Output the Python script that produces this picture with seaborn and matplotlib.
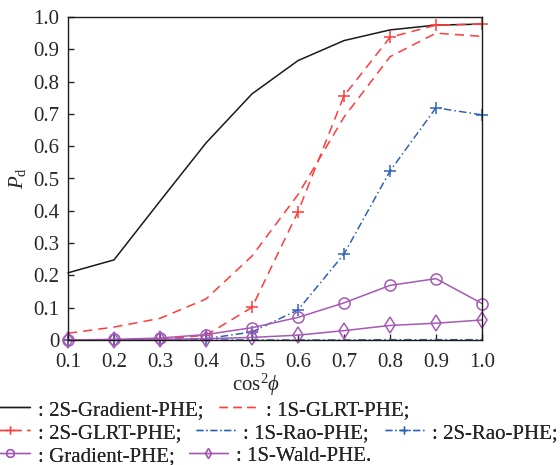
import matplotlib
matplotlib.use("Agg")
import matplotlib.pyplot as plt
from matplotlib.lines import Line2D
import pandas as pd
import seaborn as sns

# cos^2(phi) grid
cos2phi = [0.1, 0.2, 0.3, 0.4, 0.5, 0.6, 0.7, 0.8, 0.9, 1.0]

# detection probability of each detector
pd_2s_gradient = [0.208, 0.248, 0.43, 0.61, 0.762, 0.865, 0.927, 0.96, 0.975, 0.978]
pd_1s_glrt     = [0.021, 0.040, 0.067, 0.127, 0.26, 0.45, 0.69, 0.877, 0.95, 0.94]
pd_2s_glrt     = [0.0, 0.0, 0.002, 0.015, 0.101, 0.397, 0.756, 0.937, 0.975, 0.978]
pd_1s_rao      = [0.0, 0.0, 0.0, 0.0, 0.0, 0.0, 0.0, 0.001, 0.001, 0.001]
pd_2s_rao      = [0.0, 0.0, 0.001, 0.004, 0.025, 0.093, 0.266, 0.523, 0.719, 0.697]
pd_gradient    = [0.0, 0.002, 0.006, 0.017, 0.038, 0.070, 0.115, 0.169, 0.19, 0.113]
pd_1s_wald     = [0.0, 0.0, 0.002, 0.004, 0.008, 0.015, 0.029, 0.045, 0.052, 0.062]

labels = [": 2S-Gradient-PHE;", ": 1S-GLRT-PHE;", ": 2S-GLRT-PHE;",
          ": 1S-Rao-PHE;", ": 2S-Rao-PHE;", ": Gradient-PHE;", ": 1S-Wald-PHE."]

xticks = [0.1, 0.2, 0.3, 0.4, 0.5, 0.6, 0.7, 0.8, 0.9, 1.0]
xtick_labels = ["0.1", "0.2", "0.3", "0.4", "0.5", "0.6", "0.7", "0.8", "0.9", "1.0"]
yticks = [0.0, 0.1, 0.2, 0.3, 0.4, 0.5, 0.6, 0.7, 0.8, 0.9, 1.0]
ytick_labels = ["0", "0.1", "0.2", "0.3", "0.4", "0.5", "0.6", "0.7", "0.8", "0.9", "1.0"]

sns.set_style("ticks")
plt.rcParams["font.family"] = ["Liberation Serif", "DejaVu Serif"]
plt.rcParams["mathtext.fontset"] = "custom"
plt.rcParams["mathtext.rm"] = "Liberation Serif"
plt.rcParams["mathtext.it"] = "Liberation Serif:italic"
FS = 15
plt.rcParams["font.size"] = FS

BLACK = "#1a1a1a"
RED = "#ff3b3b"
BLUE = "#2f62b5"
PURPLE = "#a55ab5"

styles = [
    dict(color=BLACK, dashes=None, marker=None, ms=0),
    dict(color=RED, dashes=(6, 4), marker=None, ms=0),
    dict(color=RED, dashes=(6, 4), marker="+", ms=9),
    dict(color=BLUE, dashes=(5, 2, 1, 2), marker=None, ms=0),
    dict(color=BLUE, dashes=(5, 2, 1, 2), marker="+", ms=8),
    dict(color=PURPLE, dashes=None, marker="o", ms=8),
    dict(color=PURPLE, dashes=None, marker="d", ms=8),
]
series = [pd_2s_gradient, pd_1s_glrt, pd_2s_glrt, pd_1s_rao, pd_2s_rao, pd_gradient, pd_1s_wald]

W, H = 560, 465
fig = plt.figure(figsize=(W / 100, H / 100), dpi=100)
ax = fig.add_axes([68 / W, 1 - 340 / H, 414 / W, 323 / H])

handles = []
for vals, st in zip(series, styles):
    df = pd.DataFrame({"x": cos2phi, "y": vals})
    sns.lineplot(data=df, x="x", y="y", ax=ax, color=st["color"], lw=1.1,
                 marker=st["marker"], markersize=st["ms"], markerfacecolor="none",
                 markeredgecolor=st["color"], markeredgewidth=1.1,
                 sort=False, legend=False, clip_on=False)
    line = ax.lines[-1]
    if st["dashes"] is not None:
        line.set_dashes(st["dashes"])
    h = Line2D([], [], color=st["color"], lw=1.0, marker=st["marker"],
               markersize=st["ms"] * 0.7, markerfacecolor="none",
               markeredgecolor=st["color"], markeredgewidth=1.0)
    if st["dashes"] is not None:
        h.set_dashes(st["dashes"])
    handles.append(h)

ax.set_xlim(0.1, 1.0)
ax.set_ylim(0.0, 1.0)
ax.set_xticks(xticks)
ax.set_xticklabels(xtick_labels)
ax.set_yticks(yticks)
ax.set_yticklabels(ytick_labels)
ax.tick_params(direction="in", length=4, width=1.0, labelsize=FS)
ax.tick_params(axis="x", pad=9)
ax.tick_params(axis="y", pad=6)
for s in ax.spines.values():
    s.set_linewidth(1.0)
    s.set_color(BLACK)

ax.set_xlabel(r"$\mathrm{cos}^2\phi$", fontsize=FS)
ax.xaxis.set_label_coords(0.454, -0.098)
ax.set_ylabel(r"$P_{\mathrm{d}}$", fontsize=FS)
ax.yaxis.set_label_coords(-0.097, 0.5)

# legend entries laid out in three rows beneath the axes: (entry, handle start px, row centre px)
entry_pos = [(0, -9, 410), (1, 219, 410),
             (2, -9, 433), (3, 196, 433), (4, 385, 433),
             (5, -9, 456), (6, 189, 456)]
for i, xpx, ypx in entry_pos:
    leg = fig.legend([handles[i]], [labels[i]], loc="center left",
                     bbox_to_anchor=(xpx / W, 1 - ypx / H), frameon=False,
                     fontsize=FS, handlelength=1.85, handletextpad=0.4,
                     borderpad=0, borderaxespad=0)
    fig.add_artist(leg)

fig.savefig("out.png", dpi=100)
